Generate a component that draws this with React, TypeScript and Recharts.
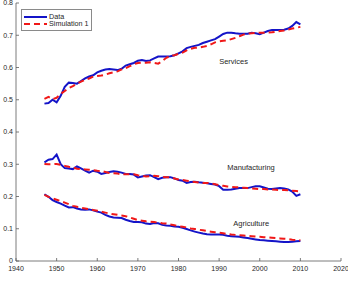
import { Legend, Line, LineChart, ReferenceDot, XAxis, YAxis } from "recharts"

const FONT = "'Liberation Sans', Arial, Helvetica, sans-serif"
const AXIS_COLOR = "#5a5a5a"
const TEXT_COLOR = "#262626"
const DATA_COLOR = "#1414c8"
const SIM_COLOR = "#f01818"
const TICK_LEN = 3

const YEARS = [
  1947, 1948, 1949, 1950, 1951, 1952, 1953, 1954, 1955, 1956, 1957, 1958, 1959, 1960, 1961, 1962,
  1963, 1964, 1965, 1966, 1967, 1968, 1969, 1970, 1971, 1972, 1973, 1974, 1975, 1976, 1977, 1978,
  1979, 1980, 1981, 1982, 1983, 1984, 1985, 1986, 1987, 1988, 1989, 1990, 1991, 1992, 1993, 1994,
  1995, 1996, 1997, 1998, 1999, 2000, 2001, 2002, 2003, 2004, 2005, 2006, 2007, 2008, 2009, 2010,
]

const SERVICES_DATA = [
  0.488, 0.49, 0.5, 0.492, 0.512, 0.54, 0.553, 0.552, 0.55, 0.558, 0.566, 0.572, 0.576, 0.585, 0.59, 0.594,
  0.595, 0.594, 0.592, 0.596, 0.606, 0.61, 0.614, 0.621, 0.623, 0.62, 0.622, 0.628, 0.634, 0.634, 0.634, 0.635,
  0.638, 0.644, 0.65, 0.66, 0.664, 0.667, 0.67, 0.676, 0.68, 0.684, 0.688, 0.696, 0.704, 0.708, 0.708, 0.706,
  0.705, 0.705, 0.705, 0.708, 0.706, 0.703, 0.708, 0.713, 0.716, 0.716, 0.716, 0.717, 0.721, 0.729, 0.741, 0.734,
]
const SERVICES_SIM = [
  0.503, 0.509, 0.502, 0.506, 0.518, 0.527, 0.536, 0.542, 0.55, 0.556, 0.562, 0.566, 0.572, 0.574, 0.575, 0.578,
  0.582, 0.585, 0.588, 0.594, 0.598, 0.604, 0.61, 0.614, 0.615, 0.615, 0.616, 0.614, 0.612, 0.62, 0.63, 0.636,
  0.638, 0.642, 0.646, 0.653, 0.658, 0.661, 0.662, 0.664, 0.667, 0.672, 0.678, 0.681, 0.683, 0.684, 0.688, 0.692,
  0.697, 0.702, 0.705, 0.706, 0.707, 0.708, 0.708, 0.708, 0.709, 0.711, 0.713, 0.715, 0.718, 0.721, 0.723, 0.726,
]
const MANUFACTURING_DATA = [
  0.306, 0.314, 0.316, 0.33, 0.3, 0.288, 0.287, 0.285, 0.293, 0.287, 0.28, 0.274, 0.28, 0.277, 0.27, 0.273,
  0.276, 0.278, 0.277, 0.274, 0.27, 0.27, 0.268, 0.259, 0.262, 0.265, 0.266, 0.26, 0.254, 0.258, 0.26, 0.26,
  0.256, 0.251, 0.249, 0.242, 0.245, 0.246, 0.244, 0.243, 0.241, 0.239, 0.237, 0.232, 0.221, 0.221, 0.222, 0.224,
  0.226, 0.226, 0.226, 0.229, 0.232, 0.232, 0.228, 0.224, 0.223, 0.225, 0.226, 0.225, 0.222, 0.215, 0.202, 0.207,
]
const MANUFACTURING_SIM = [
  0.301, 0.3, 0.3, 0.301, 0.298, 0.295, 0.292, 0.29, 0.286, 0.285, 0.284, 0.283, 0.282, 0.28, 0.279, 0.276,
  0.273, 0.272, 0.271, 0.269, 0.269, 0.269, 0.269, 0.266, 0.264, 0.262, 0.263, 0.264, 0.263, 0.261, 0.26, 0.259,
  0.256, 0.253, 0.251, 0.249, 0.247, 0.245, 0.243, 0.242, 0.242, 0.241, 0.238, 0.235, 0.233, 0.231, 0.23, 0.229,
  0.228, 0.227, 0.226, 0.225, 0.224, 0.223, 0.223, 0.222, 0.222, 0.221, 0.22, 0.22, 0.219, 0.218, 0.217, 0.216,
]
const AGRICULTURE_DATA = [
  0.207, 0.199, 0.189, 0.183, 0.178, 0.172, 0.166, 0.167, 0.163, 0.16, 0.159, 0.16, 0.157, 0.153, 0.15, 0.143,
  0.138, 0.135, 0.134, 0.133, 0.128, 0.124, 0.121, 0.121, 0.12, 0.116, 0.115, 0.118, 0.117, 0.112, 0.11, 0.109,
  0.107, 0.106, 0.103, 0.099, 0.095, 0.091, 0.088, 0.085, 0.083, 0.082, 0.082, 0.082, 0.081, 0.078, 0.077, 0.076,
  0.075, 0.073, 0.071, 0.069, 0.067, 0.065, 0.064, 0.063, 0.062, 0.061, 0.06, 0.059, 0.059, 0.06, 0.061, 0.062,
]
const AGRICULTURE_SIM = [
  0.205, 0.199, 0.194, 0.19, 0.186, 0.181, 0.176, 0.171, 0.168, 0.165, 0.163, 0.161, 0.158, 0.156, 0.153, 0.15,
  0.147, 0.145, 0.143, 0.141, 0.139, 0.135, 0.131, 0.127, 0.125, 0.123, 0.122, 0.121, 0.119, 0.117, 0.116, 0.113,
  0.111, 0.108, 0.106, 0.104, 0.101, 0.099, 0.097, 0.095, 0.093, 0.091, 0.089, 0.088, 0.086, 0.084, 0.082, 0.081,
  0.08, 0.079, 0.078, 0.077, 0.076, 0.075, 0.074, 0.073, 0.072, 0.071, 0.07, 0.069, 0.068, 0.066, 0.065, 0.064,
]

const X_TICKS = [1940, 1950, 1960, 1970, 1980, 1990, 2000, 2010, 2020]
const Y_TICKS = [0, 0.1, 0.2, 0.3, 0.4, 0.5, 0.6, 0.7, 0.8]

const LEGEND_NAMES = ["Data", "Simulation 1"]
const SECTOR_NAMES = ["Services", "Manufacturing", "Agriculture"]
const SECTOR_LABEL_YEARS = [1990, 1992, 1993.5]
const SECTOR_LABEL_SHARES = [0.62, 0.29, 0.118]

const data = YEARS.map((year, i) => ({
  year,
  servicesData: SERVICES_DATA[i],
  servicesSim: SERVICES_SIM[i],
  manufacturingData: MANUFACTURING_DATA[i],
  manufacturingSim: MANUFACTURING_SIM[i],
  agricultureData: AGRICULTURE_DATA[i],
  agricultureSim: AGRICULTURE_SIM[i],
}))

const fmtY = (v: number) => (v === 0 ? "0" : String(Math.round(v * 10) / 10))

function BottomTick({ x, y, payload }: any) {
  return (
    <g>
      <line x1={x} x2={x} y1={y} y2={y - TICK_LEN} stroke={AXIS_COLOR} strokeWidth={0.8} />
      <text x={x} y={y + 5} dy="0.71em" textAnchor="middle" fontSize={7} fontFamily={FONT} fill={TEXT_COLOR}>
        {payload.value}
      </text>
    </g>
  )
}

function LeftTick({ x, y, payload }: any) {
  return (
    <g>
      <line x1={x} x2={x + TICK_LEN} y1={y} y2={y} stroke={AXIS_COLOR} strokeWidth={0.8} />
      <text x={x - 3} y={y} dy="0.35em" textAnchor="end" fontSize={7} fontFamily={FONT} fill={TEXT_COLOR}>
        {fmtY(payload.value)}
      </text>
    </g>
  )
}

function TopTick({ x, y }: any) {
  return <line x1={x} x2={x} y1={y} y2={y + TICK_LEN} stroke={AXIS_COLOR} strokeWidth={0.8} />
}

function RightTick({ x, y }: any) {
  return <line x1={x - TICK_LEN} x2={x} y1={y} y2={y} stroke={AXIS_COLOR} strokeWidth={0.8} />
}

function LegendBox({ payload }: any) {
  const entries = (payload ?? []).filter((entry: any) => LEGEND_NAMES.includes(entry.value))
  return (
    <div
      style={{
        display: "inline-block",
        border: "1px solid #8a8a8a",
        background: "#fff",
        padding: "3px 2px 3px 2px",
        fontFamily: FONT,
        fontSize: 7.2,
        lineHeight: "7px",
        color: TEXT_COLOR,
      }}
    >
      {entries.map((entry: any) => (
        <div key={entry.value} style={{ display: "flex", alignItems: "center", height: 7 }}>
          <svg width={23} height={4} style={{ display: "block" }}>
            <line
              x1={0}
              x2={23}
              y1={2}
              y2={2}
              stroke={entry.color}
              strokeWidth={2}
              strokeDasharray={entry.payload?.strokeDasharray}
            />
          </svg>
          <span style={{ marginLeft: 2, whiteSpace: "nowrap", lineHeight: "7px" }}>{entry.value}</span>
        </div>
      ))}
    </div>
  )
}

export default function App() {
  return (
    <div style={{ position: "absolute", left: 0, top: 0, width: 348, height: 283, background: "#fff" }}>
      <LineChart width={348} height={283} data={data} margin={{ top: 3, right: 7, bottom: 0, left: 0 }}>
        <XAxis
          dataKey="year"
          type="number"
          domain={[1940, 2020]}
          ticks={X_TICKS}
          height={22}
          tickSize={0}
          tickMargin={0}
          tickLine={false}
          tick={<BottomTick />}
          axisLine={{ stroke: AXIS_COLOR, strokeWidth: 0.8 }}
          interval={0}
        />
        <XAxis
          xAxisId="top"
          orientation="top"
          dataKey="year"
          type="number"
          domain={[1940, 2020]}
          ticks={X_TICKS}
          height={0}
          tickSize={0}
          tickMargin={0}
          tickLine={false}
          tick={<TopTick />}
          axisLine={{ stroke: AXIS_COLOR, strokeWidth: 0.8 }}
          interval={0}
        />
        <YAxis
          type="number"
          domain={[0, 0.8]}
          ticks={Y_TICKS}
          width={16}
          tickSize={0}
          tickMargin={0}
          tickLine={false}
          tick={<LeftTick />}
          axisLine={{ stroke: AXIS_COLOR, strokeWidth: 0.8 }}
          interval={0}
        />
        <YAxis
          yAxisId="right"
          orientation="right"
          type="number"
          domain={[0, 0.8]}
          ticks={Y_TICKS}
          width={0}
          tickSize={0}
          tickMargin={0}
          tickLine={false}
          tick={<RightTick />}
          axisLine={{ stroke: AXIS_COLOR, strokeWidth: 0.8 }}
          interval={0}
        />
        <Legend
          layout="horizontal"
          verticalAlign="middle"
          align="center"
          content={<LegendBox />}
          wrapperStyle={{ top: 9, left: 21, width: "auto" }}
        />
        <Line dataKey="servicesData" name="Data" stroke={DATA_COLOR} strokeWidth={2} dot={false} isAnimationActive={false} />
        <Line dataKey="manufacturingData" legendType="none" stroke={DATA_COLOR} strokeWidth={2} dot={false} isAnimationActive={false} />
        <Line dataKey="agricultureData" legendType="none" stroke={DATA_COLOR} strokeWidth={2} dot={false} isAnimationActive={false} />
        <Line dataKey="servicesSim" name="Simulation 1" stroke={SIM_COLOR} strokeWidth={2} strokeDasharray="6 4" dot={false} isAnimationActive={false} />
        <Line dataKey="manufacturingSim" legendType="none" stroke={SIM_COLOR} strokeWidth={2} strokeDasharray="6 4" dot={false} isAnimationActive={false} />
        <Line dataKey="agricultureSim" legendType="none" stroke={SIM_COLOR} strokeWidth={2} strokeDasharray="6 4" dot={false} isAnimationActive={false} />
        {SECTOR_NAMES.map((name, i) => (
          <ReferenceDot
            key={name}
            x={SECTOR_LABEL_YEARS[i]}
            y={SECTOR_LABEL_SHARES[i]}
            r={0}
            fill="none"
            stroke="none"
            label={{ value: name, position: "right", offset: 0, fontSize: 7.5, fill: TEXT_COLOR, fontFamily: FONT }}
          />
        ))}
      </LineChart>
    </div>
  )
}
